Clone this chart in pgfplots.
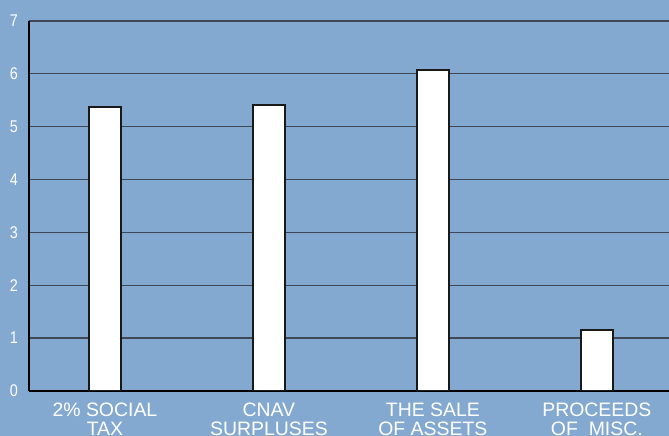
\documentclass[border=0pt]{standalone}
\usepackage{pgfplots}
\pgfplotsset{compat=1.18}
\usepackage{fontspec}
\setmainfont{Liberation Sans}
\newfontfamily\tickfont[FakeStretch=0.85]{Liberation Sans}
\definecolor{bg}{RGB}{131,169,208}
\definecolor{gridc}{RGB}{62,72,86}
\begin{document}
\begin{tikzpicture}[x=1bp,y=1bp]
\clip (0,0) rectangle (669,436);
\fill[bg] (0,0) rectangle (669,436);
\begin{axis}[
  at={(29bp,45bp)}, anchor=south west,
  scale only axis, width=640bp, height=370bp,
  xmin=-0.463, xmax=3.44, ymin=0, ymax=7,
  axis lines*=left,
  axis line style={-, black, line width=1.1bp},
  ytick={0,1,2,3,4,5,6,7},
  ymajorgrids, grid style={gridc, line width=1.3bp},
  major tick length=0pt,
  tick style={draw=none},
  /pgf/number format/assume math mode=true,
  yticklabel style={white, font=\fontsize{17}{17}\tickfont, inner sep=0pt, anchor=center, xshift=-15bp},
  xtick={0,1,2,3},
  xticklabels={2\% SOCIAL\\TAX, CNAV\\SURPLUSES, THE SALE\\OF ASSETS, PROCEEDS\\OF\ \ MISC.},
  xticklabel style={white, align=center, font=\fontsize{19.5}{18.5}\selectfont, inner sep=0pt, anchor=north, yshift=-12bp},
]
\addplot[ybar, bar width=32bp, fill=white, draw=black!90, line width=2.4bp] coordinates {(0,5.37) (1,5.41) (2,6.07) (3,1.15)};
\end{axis}
\end{tikzpicture}
\end{document}
